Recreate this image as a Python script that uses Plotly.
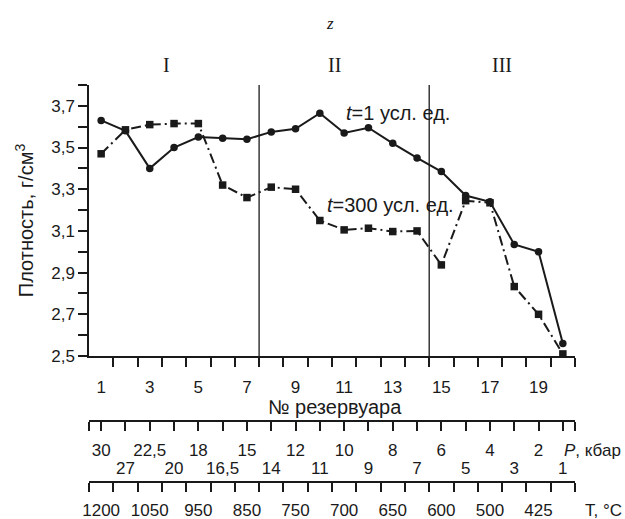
import plotly.graph_objects as go

# ---------------- data ----------------
reservoirs = list(range(1, 21))
density_t1 = [3.63, 3.58, 3.40, 3.50, 3.55, 3.545, 3.54, 3.575, 3.59, 3.665,
              3.57, 3.595, 3.52, 3.45, 3.385, 3.27, 3.24, 3.035, 3.0, 2.56]
density_t300 = [3.47, 3.585, 3.61, 3.615, 3.615, 3.32, 3.26, 3.31, 3.30, 3.15,
                3.105, 3.113, 3.097, 3.10, 2.937, 3.245, 3.235, 2.833, 2.70, 2.51]
pressure_labels = ["30", "27", "22,5", "20", "18", "16,5", "15", "14", "12", "11",
                   "10", "9", "8", "7", "6", "5", "4", "3", "2", "1"]
temp_positions = [1, 3, 5, 7, 9, 11, 13, 15, 17, 19]
temp_labels = ["1200", "1050", "950", "850", "750", "700", "650", "600", "500", "425"]
zone_bounds = [7.5, 14.5]
zone_names = ["I", "II", "III"]
zone_label_x = [3.7, 10.6, 17.5]
y_major = [2.5, 2.7, 2.9, 3.1, 3.3, 3.5, 3.7]
y_major_text = ["2,5", "2,7", "2,9", "3,1", "3,3", "3,5", "3,7"]
y_minor = [2.6, 2.8, 3.0, 3.2, 3.4, 3.6, 3.8]

# ---------------- geometry ----------------
W, H = 625, 519
ML, MR, MT, MB = 89, 50, 85, 5
paper_h = H - MT - MB


def py(pix):
    """pixel row -> paper fraction"""
    return (H - MB - pix) / paper_h


def px(pix):
    return (pix - ML) / (W - ML - MR)


FONT = "Liberation Sans, Arial, sans-serif"
SERIF = "Liberation Serif, Times New Roman, serif"
INK = "#1a1a1a"
xr = [0.5, 20.5]
half_ticks = [i + 0.5 for i in range(0, 21)]

# pressure labels split into two staggered rows
p_row1_pos = reservoirs[0::2]
p_row1_txt = pressure_labels[0::2]
p_row2_pos = reservoirs[1::2]
p_row2_txt = pressure_labels[1::2]

fig = go.Figure()
fig.add_trace(go.Scatter(
    x=reservoirs, y=density_t1, mode="lines+markers",
    line=dict(color=INK, width=2),
    marker=dict(symbol="circle", size=7.5, color=INK),
    cliponaxis=False, showlegend=False))
fig.add_trace(go.Scatter(
    x=reservoirs, y=density_t300, mode="lines+markers",
    line=dict(color=INK, width=2, dash="10px,4px,2px,4px"),
    marker=dict(symbol="square", size=7.5, color=INK),
    cliponaxis=False, showlegend=False))
# empty traces to register auxiliary axes
for ax in ["x2", "x3", "x4"]:
    fig.add_trace(go.Scatter(x=[None], y=[None], xaxis=ax, yaxis="y",
                             showlegend=False, hoverinfo="skip"))

for xb in zone_bounds:
    fig.add_shape(type="line", xref="x", yref="y", x0=xb, x1=xb, y0=2.5, y1=3.8,
                  line=dict(color=INK, width=1.3))

ann = []
for name, xz in zip(zone_names, zone_label_x):
    ann.append(dict(x=xz, y=py(65), xref="x", yref="paper", yanchor="middle", text=name,
                    showarrow=False, font=dict(family=SERIF, size=20, color=INK)))
ann.append(dict(x=10.4, y=py(23), xref="x", yref="paper", yanchor="middle", text="<i>z</i>",
                showarrow=False, font=dict(family=SERIF, size=17, color=INK)))
ann.append(dict(x=13.22, y=3.667, xref="x", yref="y", yanchor="middle",
                text="<i>t</i>=1 усл. ед.", showarrow=False,
                font=dict(family=FONT, size=20, color=INK)))
ann.append(dict(x=12.9, y=3.225, xref="x", yref="y", yanchor="middle",
                text="<i>t</i>=300 усл. ед.", showarrow=False,
                font=dict(family=FONT, size=20, color=INK)))
ann.append(dict(x=px(335), y=py(407), xref="paper", yref="paper", yanchor="middle",
                text="№ резервуара", showarrow=False,
                font=dict(family=FONT, size=20, color=INK)))
ann.append(dict(x=px(562), y=py(450), xref="paper", yref="paper", yanchor="middle",
                text="<i>P</i>, кбар", xanchor="left", showarrow=False,
                font=dict(family=FONT, size=17, color=INK)))
ann.append(dict(x=px(583), y=py(510), xref="paper", yref="paper", yanchor="middle",
                text="T, °C", xanchor="left", showarrow=False,
                font=dict(family=FONT, size=17, color=INK)))

common = dict(range=xr, showgrid=False, zeroline=False, automargin=False, tickangle=0,
              tickfont=dict(size=17), tickmode="array", side="bottom")

fig.update_layout(
    width=W, height=H, margin=dict(l=ML, r=MR, t=MT, b=MB, autoexpand=False),
    paper_bgcolor="white", plot_bgcolor="white",
    font=dict(family=FONT, size=17, color=INK),
    annotations=ann,
    xaxis=dict(**common, domain=[0, 1], anchor="y",
               showline=True, linecolor=INK, linewidth=1.5,
               tickvals=temp_positions, ticktext=[str(v) for v in temp_positions],
               ticks="outside", ticklen=9, tickcolor="rgba(0,0,0,0)", ticklabelstandoff=6,
               minor=dict(tickmode="array", tickvals=half_ticks[1:], ticks="outside",
                          ticklen=9, tickwidth=1.5, tickcolor=INK)),
    xaxis2=dict(**common, overlaying="x", anchor="free", position=py(421),
                showline=True, linecolor=INK, linewidth=1.5,
                tickvals=p_row1_pos, ticktext=p_row1_txt,
                ticks="outside", ticklen=9, tickwidth=1.5, tickcolor=INK, ticklabelstandoff=5,
                minor=dict(tickmode="array", tickvals=[xr[0]] + p_row2_pos + [xr[1]],
                           ticks="outside", ticklen=9, tickwidth=1.5, tickcolor=INK)),
    xaxis4=dict(**common, overlaying="x", anchor="free", position=py(421),
                showline=False, tickvals=p_row2_pos, ticktext=p_row2_txt,
                ticks="outside", ticklen=9, tickcolor="rgba(0,0,0,0)", ticklabelstandoff=23),
    xaxis3=dict(**common, overlaying="x", anchor="free", position=py(482),
                showline=True, linecolor=INK, linewidth=1.5,
                tickvals=temp_positions, ticktext=temp_labels,
                ticks="outside", ticklen=9, tickcolor="rgba(0,0,0,0)", ticklabelstandoff=4,
                minor=dict(tickmode="array", tickvals=half_ticks, ticks="outside",
                           ticklen=9, tickwidth=1.5, tickcolor=INK)),
    yaxis=dict(range=[2.5, 3.8], domain=[py(356), 1], showgrid=False, zeroline=False,
               showline=True, linecolor=INK, linewidth=1.5, automargin=False,
               tickmode="array", tickvals=y_major, ticktext=y_major_text,
               ticks="outside", ticklen=9, tickwidth=1.5, tickcolor=INK,
               minor=dict(tickmode="array", tickvals=y_minor, ticks="outside",
                          ticklen=9, tickwidth=1.5, tickcolor=INK),
               tickfont=dict(size=17),
               title=dict(text="Плотность, г/см<sup>3</sup>", standoff=12,
                          font=dict(size=20))),
)

fig.write_html("out.html")
